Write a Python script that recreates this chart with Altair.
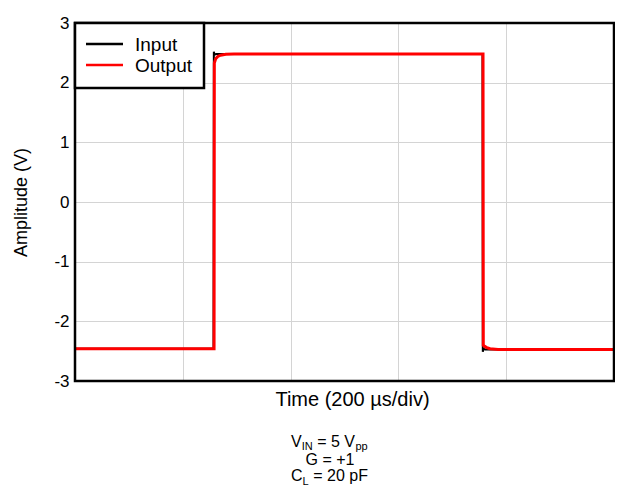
import altair as alt
import pandas as pd

# ---- data ----
input_time = [0, 257, 257.6, 259, 262, 756, 756.6, 758, 761, 1000]
input_volt = [-2.46, -2.46, 2.52, 2.47, 2.48, 2.48, -2.51, -2.46, -2.47, -2.47]

output_time = [0, 258, 258.5, 261, 265, 270, 280, 295, 757, 757.5, 760, 764, 770, 785, 1000]
output_volt = [-2.46, -2.46, 2.33, 2.40, 2.44, 2.46, 2.475, 2.48, 2.48, -2.40, -2.42, -2.44, -2.46, -2.47, -2.47]

series_names = ["Input", "Output"]
series_colors = ["#000000", "#ff0000"]
series_widths = [2, 3]
x_ticks = [0, 200, 400, 600, 800, 1000]
y_ticks = [-3, -2, -1, 0, 1, 2, 3]
x_title = "Time (200 µs/div)"
y_title = "Amplitude (V)"
note_line1 = ["V", "IN", "= 5 V", "pp"]
note_line2 = ["G = +1"]
note_line3 = ["C", "L", "= 20 pF"]

FONT = "Liberation Sans"
W, H = 539, 358

df = pd.concat([
    pd.DataFrame({"t": input_time, "v": input_volt, "s": series_names[0], "o": range(len(input_time))}),
    pd.DataFrame({"t": output_time, "v": output_volt, "s": series_names[1], "o": range(len(output_time))}),
])

x_enc = alt.X("t:Q", scale=alt.Scale(domain=[0, 1000], nice=False, zero=False),
              axis=alt.Axis(values=x_ticks, labels=False, ticks=False, domain=False, grid=True,
                            gridColor="#d4d4d4", gridWidth=1, title=x_title, titleFont=FONT,
                            titleFontSize=20, titleFontWeight="normal", titleColor="black",
                            titlePadding=8, titleX=277))
y_enc = alt.Y("v:Q", scale=alt.Scale(domain=[-3, 3], nice=False, zero=False),
              axis=alt.Axis(values=y_ticks, ticks=False, domain=False, grid=True,
                            gridColor="#d4d4d4", gridWidth=1, labelFont=FONT, labelFontSize=17,
                            labelColor="black", labelPadding=6,
                            labelExpr="toString(datum.value)",
                            title=y_title, titleFont=FONT,
                            titleFontSize=18, titleFontWeight="normal", titleColor="black",
                            titlePadding=23))

lines = alt.Chart(df).mark_line(clip=True).encode(
    x=x_enc, y=y_enc,
    color=alt.Color("s:N", scale=alt.Scale(domain=series_names, range=series_colors), legend=None),
    size=alt.Size("s:N", scale=alt.Scale(domain=series_names, range=series_widths), legend=None),
    order="o:Q",
)

one = pd.DataFrame({"k": [0]})

frame = alt.Chart(one).mark_rect(fill=None, stroke="black", strokeWidth=2.5).encode(
    x=alt.value(0), x2=alt.value(W), y=alt.value(0), y2=alt.value(H))

# legend (manual, top-left inside plot)
leg_box = alt.Chart(one).mark_rect(fill="white", stroke="black", strokeWidth=2.5).encode(
    x=alt.value(0), x2=alt.value(129), y=alt.value(0), y2=alt.value(65))
leg_parts = [leg_box]
for i, (name, col) in enumerate(zip(series_names, series_colors)):
    yy = 21 + 21 * i
    leg_parts.append(alt.Chart(one).mark_rule(color=col, strokeWidth=2.5).encode(
        x=alt.value(11), x2=alt.value(48), y=alt.value(yy)))
    leg_parts.append(alt.Chart(one).mark_text(text=name, font=FONT, fontSize=19, align="left",
                                              baseline="middle", color="black").encode(
        x=alt.value(60), y=alt.value(yy + 1)))

# notes below the chart
def txt(s, x, y, size=16):
    return alt.Chart(one).mark_text(text=s, font=FONT, fontSize=size, align="left",
                                    baseline="alphabetic", color="black").encode(
        x=alt.value(x), y=alt.value(y))

notes = []
# line 1: V_IN = 5 V_pp
x0 = 216
notes.append(txt(note_line1[0], x0, 424))
notes.append(txt(note_line1[1], x0 + 10.7, 427, 11))
notes.append(txt(note_line1[2], x0 + 26.2, 424))
notes.append(txt(note_line1[3], x0 + 64.5, 427, 11))
# line 2
notes.append(alt.Chart(one).mark_text(text=note_line2[0], font=FONT, fontSize=16, align="center",
                                      baseline="alphabetic", color="black").encode(
    x=alt.value(255), y=alt.value(442)))
# line 3: C_L = 20 pF
x1 = 216
notes.append(txt(note_line3[0], x1, 458))
notes.append(txt(note_line3[1], x1 + 11.6, 462, 11))
notes.append(txt(note_line3[2], x1 + 22.2, 458))

chart = alt.layer(lines, frame, *leg_parts, *notes).properties(
    width=W, height=H, autosize="none",
    padding={"left": 67, "top": 15, "right": 1, "bottom": 106},
).configure_view(stroke=None)

chart.save("out.html", embed_options={"renderer": "svg", "actions": False})
